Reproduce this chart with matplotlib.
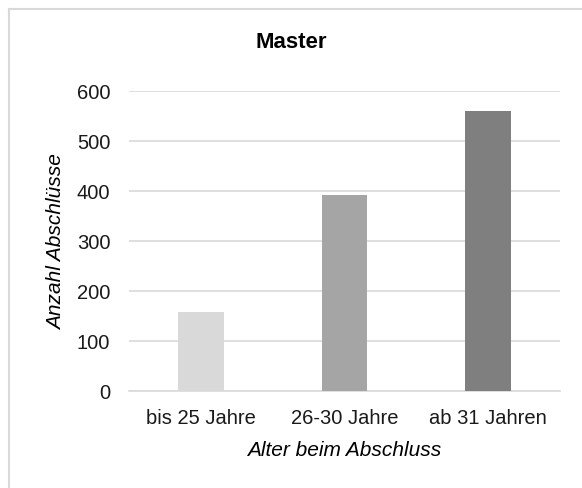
import matplotlib.pyplot as plt
from matplotlib.lines import Line2D

# data
categories = ['bis 25 Jahre', '26-30 Jahre', 'ab 31 Jahren']
counts = [157, 391, 559]
bar_colors = ['#d9d9d9', '#a5a5a5', '#7f7f7f']
y_ticks = [0, 100, 200, 300, 400, 500, 600]

plt.rcParams['font.family'] = ['Liberation Sans', 'DejaVu Sans']


def main():
    fig = plt.figure(figsize=(5.82, 4.89), dpi=100)
    ax = fig.add_axes([129 / 582, 1 - 391.7 / 489, (560 - 129) / 582, 300 / 489])

    x = range(len(categories))
    ax.bar(x, counts, width=0.32, color=bar_colors, zorder=3)
    ax.set_xlim(-0.5, len(categories) - 0.5)
    ax.set_ylim(0, 600)
    ax.set_yticks(y_ticks)
    ax.set_xticks(list(x))
    ax.set_xticklabels(categories)
    ax.yaxis.grid(True, color='#d9d9d9', linewidth=1.2, zorder=0)
    ax.tick_params(axis='both', length=0, labelsize=14.5, colors='#1a1a1a')
    ax.tick_params(axis='y', pad=13.5)
    ax.tick_params(axis='x', pad=12.5)
    for side in ['top', 'right', 'left']:
        ax.spines[side].set_visible(False)
    ax.spines['bottom'].set_color('#d9d9d9')
    ax.spines['bottom'].set_linewidth(1.2)

    ax.set_xlabel('Alter beim Abschluss', fontsize=15, style='italic', labelpad=9)
    ax.set_ylabel('Anzahl Abschlüsse', fontsize=15, style='italic', labelpad=8)
    fig.text(0.5, 1 - 43 / 489, 'Master', ha='center', va='center',
             fontsize=16, fontweight='bold')

    # outer chart border
    fig.add_artist(Line2D([8.5 / 582, 8.5 / 582], [0, 1 - 9.5 / 489],
                          transform=fig.transFigure, color='#d9d9d9', linewidth=1.5))
    fig.add_artist(Line2D([8.5 / 582, 1], [1 - 9.5 / 489, 1 - 9.5 / 489],
                          transform=fig.transFigure, color='#d9d9d9', linewidth=1.5))

    fig.savefig('out.png', dpi=100)


if __name__ == '__main__':
    main()
